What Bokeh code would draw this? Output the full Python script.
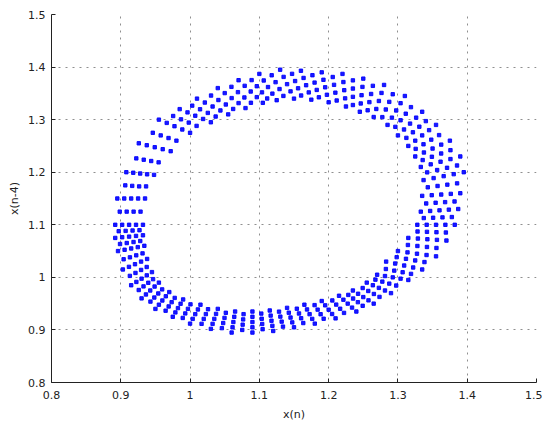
from bokeh.plotting import figure
from bokeh.models import FixedTicker, Range1d
from bokeh.embed import file_html
from bokeh.resources import INLINE

# ---- data: x(n) and x(n-4) of the ring, by arc ----
upper_left_x = [
    0.892, 0.902, 0.912, 0.922, 0.932,
    0.8985, 0.9085, 0.9185, 0.9285,
    0.895, 0.905, 0.915, 0.925, 0.935,
    0.9065, 0.9165, 0.9265, 0.9365,
    0.908, 0.918, 0.928, 0.938, 0.948,
    0.9224, 0.9331, 0.9439, 0.9546,
    0.926, 0.9375, 0.949, 0.9605, 0.972,
    0.9462, 0.9576, 0.9689, 0.9803,
    0.955, 0.9663, 0.9775, 0.9888, 1.0,
    0.9756, 0.9869, 0.9981, 1.0094,
    0.985, 0.9963, 1.0075, 1.0188, 1.03,
    1.0031, 1.0144, 1.0256, 1.0369,
    1.01, 1.0213, 1.0325, 1.0438, 1.055,
    1.0303, 1.0409, 1.0516, 1.0622,
    1.04, 1.05, 1.06, 1.07, 1.08,
    1.0597, 1.0691, 1.0784, 1.0878,
    1.07, 1.0788, 1.0875, 1.0963, 1.105,
    1.0888, 1.0963, 1.1038, 1.1113,
    1.1, 1.1063, 1.1125, 1.1188, 1.125,
]
upper_left_y = [
    1.100, 1.100, 1.100, 1.100, 1.100,
    1.125, 1.125, 1.125, 1.125,
    1.15, 1.15, 1.15, 1.15, 1.15,
    1.175, 1.174, 1.173, 1.173,
    1.2, 1.199, 1.1975, 1.196, 1.195,
    1.2263, 1.2238, 1.2213, 1.2188,
    1.255, 1.2513, 1.2475, 1.2438, 1.24,
    1.275, 1.27, 1.265, 1.26,
    1.3, 1.2938, 1.2875, 1.2813, 1.275,
    1.3069, 1.3006, 1.2944, 1.2881,
    1.32, 1.3138, 1.3075, 1.3013, 1.295,
    1.3266, 1.3197, 1.3128, 1.3059,
    1.34, 1.3325, 1.325, 1.3175, 1.31,
    1.3458, 1.3373, 1.3288, 1.3203,
    1.36, 1.3505, 1.341, 1.3315, 1.322,
    1.3624, 1.3523, 1.3422, 1.3321,
    1.375, 1.3643, 1.3535, 1.3428, 1.332,
    1.3752, 1.3636, 1.3519, 1.3403,
    1.387, 1.3745, 1.362, 1.3495, 1.337,
]

top_right_x = [
    1.1178, 1.1234, 1.1291, 1.1347,
    1.13, 1.135, 1.14, 1.145, 1.15,
    1.1472, 1.1516, 1.1559, 1.1603,
    1.16, 1.1638, 1.1675, 1.1713, 1.175,
    1.1766, 1.1797, 1.1828, 1.1859,
    1.19, 1.1925, 1.195, 1.1975, 1.2,
    1.2059, 1.2078, 1.2097, 1.2116,
    1.22, 1.2213, 1.2225, 1.2238, 1.225,
    1.235, 1.235, 1.235, 1.235,
    1.25, 1.2488, 1.2475, 1.2463, 1.245,
    1.2638, 1.2613, 1.2588, 1.2563,
    1.28, 1.2763, 1.2725, 1.2688, 1.265,
    1.2925, 1.2875, 1.2825, 1.2775,
    1.31, 1.3038, 1.2975, 1.2913, 1.285,
    1.3188, 1.3113, 1.3038, 1.2963,
    1.335, 1.3263, 1.3175, 1.3088, 1.3,
    1.3403, 1.3309, 1.3216, 1.3122,
    1.355, 1.345, 1.335, 1.325, 1.315,
    1.3594, 1.3481, 1.3369, 1.3256,
    1.375, 1.3625, 1.35, 1.3375, 1.325,
    1.3758, 1.3624, 1.349, 1.3357,
    1.39, 1.3758, 1.3615, 1.3473, 1.333,
    1.3853, 1.3709, 1.3566, 1.3422,
    1.395, 1.3805, 1.366, 1.3515, 1.337,
]
top_right_y = [
    1.3844, 1.3713, 1.3582, 1.3451,
    1.395, 1.3813, 1.3675, 1.3538, 1.34,
    1.3871, 1.3734, 1.3596, 1.3459,
    1.393, 1.3793, 1.3655, 1.3518, 1.338,
    1.3845, 1.3705, 1.3565, 1.3425,
    1.39, 1.3758, 1.3615, 1.3473, 1.333,
    1.3811, 1.3662, 1.3513, 1.3364,
    1.387, 1.3715, 1.356, 1.3405, 1.325,
    1.3747, 1.3591, 1.3434, 1.3278,
    1.378, 1.3623, 1.3465, 1.3308, 1.315,
    1.3643, 1.3488, 1.3333, 1.3178,
    1.366, 1.3508, 1.3355, 1.3203, 1.305,
    1.3483, 1.3338, 1.3193, 1.3048,
    1.345, 1.3313, 1.3175, 1.3038, 1.29,
    1.3238, 1.3113, 1.2988, 1.2863,
    1.315, 1.3038, 1.2925, 1.2813, 1.27,
    1.2972, 1.2866, 1.2759, 1.2653,
    1.29, 1.28, 1.27, 1.26, 1.25,
    1.2706, 1.2619, 1.2531, 1.2444,
    1.26, 1.2525, 1.245, 1.2375, 1.23,
    1.2419, 1.2356, 1.2294, 1.2231,
    1.23, 1.225, 1.22, 1.215, 1.21,
    1.2128, 1.2084, 1.2041, 1.1997,
    1.2, 1.1963, 1.1925, 1.1888, 1.185,
]

lower_right_x = [
    1.3854, 1.3713, 1.3572, 1.3431,
    1.39, 1.3763, 1.3625, 1.3488, 1.335,
    1.3817, 1.3681, 1.3544, 1.3408,
    1.387, 1.3735, 1.36, 1.3465, 1.333,
    1.3778, 1.3643, 1.3508, 1.3373,
    1.382, 1.3685, 1.355, 1.3415, 1.328,
    1.3692, 1.3556, 1.3419, 1.3283,
    1.37, 1.3563, 1.3425, 1.3288, 1.315,
    1.3556, 1.3419, 1.3281, 1.3144,
    1.355, 1.3413, 1.3275, 1.3138, 1.3,
    1.3383, 1.3249, 1.3116, 1.2982,
    1.335, 1.322, 1.309, 1.296, 1.283,
    1.3189, 1.3068, 1.2947, 1.2826,
    1.315, 1.3038, 1.2925, 1.2813, 1.27,
    1.2975, 1.2875, 1.2775, 1.2675,
    1.29, 1.2813, 1.2725, 1.2638, 1.255,
    1.2734, 1.2653, 1.2572, 1.2491,
    1.265, 1.2575, 1.25, 1.2425, 1.235,
    1.2491, 1.2422, 1.2353, 1.2284,
    1.24, 1.2338, 1.2275, 1.2213, 1.215,
    1.2222, 1.2166, 1.2109, 1.2053,
    1.21, 1.205, 1.2, 1.195, 1.19,
    1.1928, 1.1884, 1.1841, 1.1797,
    1.18, 1.1763, 1.1725, 1.1688, 1.165,
    1.1634, 1.1603, 1.1572, 1.1541,
    1.15, 1.1475, 1.145, 1.1425, 1.14,
    1.1341, 1.1322, 1.1303, 1.1284,
    1.12, 1.1188, 1.1175, 1.1163, 1.115,
]
lower_right_y = [
    1.1788, 1.1763, 1.1738, 1.1713,
    1.16, 1.1588, 1.1575, 1.1563, 1.155,
    1.1444, 1.1431, 1.1419, 1.1406,
    1.13, 1.1288, 1.1275, 1.1263, 1.125,
    1.1147, 1.1141, 1.1134, 1.1128,
    1.1, 1.1, 1.1, 1.1, 1.1,
    1.0853, 1.0859, 1.0866, 1.0872,
    1.07, 1.0713, 1.0725, 1.0738, 1.075,
    1.0559, 1.0578, 1.0597, 1.0616,
    1.04, 1.0425, 1.045, 1.0475, 1.05,
    1.0291, 1.0322, 1.0353, 1.0384,
    1.015, 1.0188, 1.0225, 1.0263, 1.03,
    1.0066, 1.0097, 1.0128, 1.0159,
    0.995, 0.9975, 1.0, 1.0025, 1.005,
    0.9844, 0.9881, 0.9919, 0.9956,
    0.97, 0.975, 0.98, 0.985, 0.99,
    0.9628, 0.9684, 0.9741, 0.9797,
    0.95, 0.9563, 0.9625, 0.9688, 0.975,
    0.9459, 0.9528, 0.9597, 0.9666,
    0.935, 0.9425, 0.95, 0.9575, 0.965,
    0.9324, 0.9403, 0.9482, 0.9561,
    0.922, 0.9303, 0.9385, 0.9468, 0.955,
    0.9213, 0.9299, 0.9386, 0.9472,
    0.912, 0.921, 0.93, 0.939, 0.948,
    0.9131, 0.9222, 0.9313, 0.9404,
    0.905, 0.9143, 0.9235, 0.9328, 0.942,
    0.9063, 0.9158, 0.9253, 0.9348,
    0.898, 0.9078, 0.9175, 0.9273, 0.937,
]

lower_left_x = [
    1.1047, 1.1041, 1.1034, 1.1028,
    1.09, 1.09, 1.09, 1.09, 1.09,
    1.0753, 1.0759, 1.0766, 1.0772,
    1.06, 1.0613, 1.0625, 1.0638, 1.065,
    1.0459, 1.0478, 1.0497, 1.0516,
    1.03, 1.0325, 1.035, 1.0375, 1.04,
    1.0166, 1.0197, 1.0228, 1.0259,
    1.0, 1.0038, 1.0075, 1.0113, 1.015,
    0.9894, 0.9931, 0.9969, 1.0006,
    0.975, 0.9788, 0.9825, 0.9863, 0.99,
    0.9647, 0.9691, 0.9734, 0.9778,
    0.95, 0.955, 0.96, 0.965, 0.97,
    0.9428, 0.9484, 0.9541, 0.9597,
    0.93, 0.9363, 0.9425, 0.9488, 0.955,
    0.9259, 0.9328, 0.9397, 0.9466,
    0.915, 0.9225, 0.93, 0.9375, 0.945,
    0.9131, 0.9212, 0.9293, 0.9374,
    0.903, 0.9118, 0.9205, 0.9293, 0.938,
    0.9041, 0.9132, 0.9223, 0.9314,
    0.896, 0.9055, 0.915, 0.9245, 0.934,
    0.8989, 0.9086, 0.9184, 0.9281,
    0.892, 0.902, 0.912, 0.922, 0.932,
    0.897, 0.907, 0.917, 0.927,
]
lower_left_y = [
    0.9014, 0.9113, 0.9212, 0.9311,
    0.895, 0.905, 0.915, 0.925, 0.935,
    0.9, 0.91, 0.92, 0.93,
    0.895, 0.905, 0.915, 0.925, 0.935,
    0.9034, 0.9131, 0.9229, 0.9326,
    0.902, 0.9115, 0.921, 0.9305, 0.94,
    0.9116, 0.9209, 0.9301, 0.9394,
    0.912, 0.921, 0.93, 0.939, 0.948,
    0.9228, 0.9314, 0.9401, 0.9487,
    0.925, 0.9333, 0.9415, 0.9498, 0.958,
    0.9366, 0.9447, 0.9528, 0.9609,
    0.94, 0.948, 0.956, 0.964, 0.972,
    0.9539, 0.9616, 0.9694, 0.9771,
    0.96, 0.9675, 0.975, 0.9825, 0.99,
    0.9759, 0.9828, 0.9897, 0.9966,
    0.985, 0.9913, 0.9975, 1.0038, 1.01,
    1.0028, 1.0084, 1.0141, 1.0197,
    1.015, 1.02, 1.025, 1.03, 1.035,
    1.0344, 1.0381, 1.0419, 1.0456,
    1.05, 1.0525, 1.055, 1.0575, 1.06,
    1.0634, 1.0653, 1.0672, 1.0691,
    1.075, 1.0763, 1.0775, 1.0788, 1.08,
    1.0878, 1.0884, 1.0891, 1.0897,
]

x_ticks = [0.8, 0.9, 1.0, 1.1, 1.2, 1.3, 1.4, 1.5]
x_tick_labels = ["0.8", "0.9", "1", "1.1", "1.2", "1.3", "1.4", "1.5"]
y_ticks = [0.8, 0.9, 1.0, 1.1, 1.2, 1.3, 1.4, 1.5]
y_tick_labels = ["0.8", "0.9", "1", "1.1", "1.2", "1.3", "1.4", "1.5"]
x_label = "x(n)"
y_label = "x(n-4)"

xn = upper_left_x + top_right_x + lower_right_x + lower_left_x
xn4 = upper_left_y + top_right_y + lower_right_y + lower_left_y

p = figure(width=542, height=430, output_backend="svg", toolbar_location=None,
           x_range=Range1d(0.8, 1.5), y_range=Range1d(0.8, 1.5),
           min_border_left=51, min_border_right=6, min_border_top=14,
           min_border_bottom=48)
p.outline_line_color = None
p.background_fill_color = "white"
p.border_fill_color = "white"

p.scatter(xn, xn4, marker="square", size=3.4, color="#0000ff", alpha=0.9)

for ax, ticks, labels, lab in ((p.xaxis, x_ticks, x_tick_labels, x_label),
                               (p.yaxis, y_ticks, y_tick_labels, y_label)):
    ax.ticker = FixedTicker(ticks=ticks)
    ax.major_label_overrides = dict(zip(ticks, labels))
    ax.major_tick_in = 4
    ax.major_tick_out = 0
    ax.minor_tick_line_color = None
    ax.axis_line_color = "#222222"
    ax.major_tick_line_color = "#222222"
    ax.major_label_text_font = "DejaVu Sans"
    ax.major_label_text_font_size = "11px"
    ax.major_label_text_color = "#222222"
    ax.axis_label = lab
    ax.axis_label_text_font = "DejaVu Sans"
    ax.axis_label_text_font_size = "11px"
    ax.axis_label_text_font_style = "normal"
    ax.axis_label_text_color = "#222222"

p.xaxis.major_label_standoff = 8
p.xaxis.axis_label_standoff = 6
p.yaxis.major_label_standoff = 6
p.yaxis.axis_label_standoff = 4

p.xgrid.ticker = FixedTicker(ticks=x_ticks)
p.ygrid.ticker = FixedTicker(ticks=y_ticks)
p.grid.grid_line_color = "#8f8f8f"
p.grid.grid_line_dash = "2 5"
p.grid.grid_line_width = 1

open("out.html", "w").write(file_html(p, INLINE))
